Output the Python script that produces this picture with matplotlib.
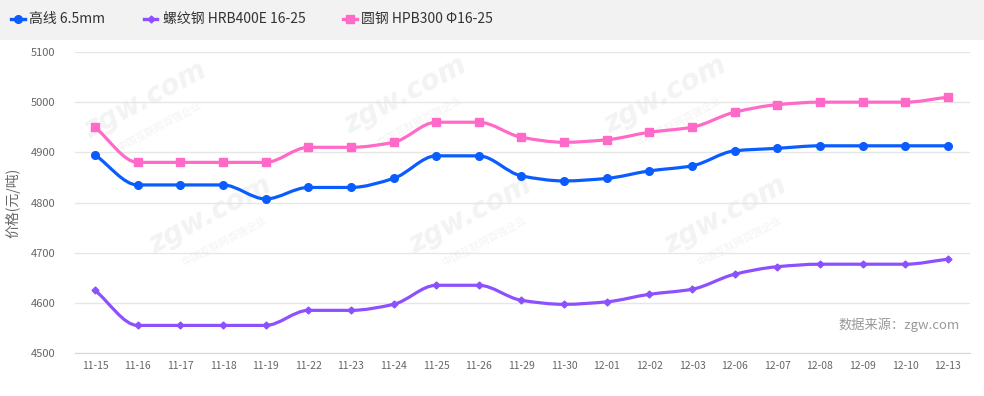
# 钢材价格走势图 (中钢网 스타일) 재현
import matplotlib as mpl
import matplotlib.pyplot as plt
from matplotlib.lines import Line2D
from matplotlib.path import Path
from matplotlib.patches import PathPatch, Rectangle
import numpy as np

mpl.rcParams['font.family'] = ['Noto Sans CJK SC', 'DejaVu Sans']
mpl.rcParams['axes.unicode_minus'] = False

dates = ['11-15', '11-16', '11-17', '11-18', '11-19', '11-22', '11-23', '11-24',
         '11-25', '11-26', '11-29', '11-30', '12-01', '12-02', '12-03', '12-06',
         '12-07', '12-08', '12-09', '12-10', '12-13']
gaoxian = [4895, 4835, 4835, 4835, 4807, 4830, 4830, 4848, 4893, 4893, 4853,
           4843, 4848, 4863, 4873, 4903, 4908, 4913, 4913, 4913, 4913]
luowen = [4625, 4555, 4555, 4555, 4555, 4585, 4585, 4597, 4635, 4635, 4605,
          4597, 4602, 4617, 4627, 4657, 4672, 4677, 4677, 4677, 4687]
yuangang = [4950, 4880, 4880, 4880, 4880, 4910, 4910, 4920, 4960, 4960, 4930,
            4920, 4925, 4940, 4950, 4980, 4995, 5000, 5000, 5000, 5010]
names = ['高线 6.5mm', '螺纹钢 HRB400E 16-25', '圆钢 HPB300 Φ16-25']
colors = ['#0a5cff', '#8d50ff', '#ff6ac8']
markers = ['o', 'D', 's']
msizes = [5.5, 3.5, 5.5]
yticks = [4500, 4600, 4700, 4800, 4900, 5000, 5100]

W, H = 984, 396


def smooth_path(x, y):
    '단조 3차 보간(PCHIP) 베지어 경로'
    x = np.asarray(x, float)
    y = np.asarray(y, float)
    h = np.diff(x)
    d = np.diff(y) / h
    m = np.zeros_like(y)
    for i in range(1, len(y) - 1):
        if d[i - 1] * d[i] > 0:
            m[i] = 2 / (1 / d[i - 1] + 1 / d[i])
    m[0] = d[0]
    m[-1] = d[-1]
    verts = [(x[0], y[0])]
    codes = [Path.MOVETO]
    for i in range(len(x) - 1):
        verts += [(x[i] + h[i] / 3, y[i] + m[i] * h[i] / 3),
                  (x[i + 1] - h[i] / 3, y[i + 1] - m[i + 1] * h[i] / 3),
                  (x[i + 1], y[i + 1])]
        codes += [Path.CURVE4] * 3
    return Path(verts, codes)


fig = plt.figure(figsize=(W / 100, H / 100), dpi=100)
fig.patch.set_facecolor('white')

# 상단 범례 배경
fig.add_artist(Rectangle((0, 1 - 40 / H), 1, 40 / H, transform=fig.transFigure,
                         facecolor='#f2f2f2', edgecolor='none', zorder=0))

ax = fig.add_axes([75 / W, 1 - 353 / H, (970 - 75) / W, (353 - 52) / H])
ax.set_facecolor('none')
ax.set_zorder(2)  # 워터마크 위에 그리기

# 워터마크 (플롯 안쪽에 들어가는 것만)
for xx, yy in [(145, 100), (405, 95), (665, 95), (210, 215), (470, 215), (725, 215)]:
    fig.text(xx / W, 1 - yy / H, 'zgw.com', fontsize=20, fontweight='bold',
             style='italic', color='#f3f3f3', rotation=28, ha='center',
             va='center', zorder=0.5, family='DejaVu Sans')
    fig.text((xx + 14) / W, 1 - (yy + 26) / H, '中国互联网百强企业', fontsize=7.5,
             color='#f3f3f3', rotation=28, ha='center', va='center', zorder=0.5)

x = np.arange(len(dates))
for vals, c, mk, ms in zip([gaoxian, luowen, yuangang], colors, markers, msizes):
    ax.add_patch(PathPatch(smooth_path(x, vals), facecolor='none', edgecolor=c,
                           lw=2.3, zorder=3, capstyle='round', joinstyle='round'))
    ax.plot(x, vals, ls='none', marker=mk, ms=ms, color=c, zorder=4)

ax.set_xlim(-0.47, 20.52)
ax.set_ylim(4500, 5100)
ax.set_yticks(yticks)
ax.set_xticks(x)
ax.set_xticklabels(dates)
ax.grid(axis='y', color='#e6e6e6', lw=1)
ax.set_axisbelow(True)
for s in ['top', 'right', 'left']:
    ax.spines[s].set_visible(False)
ax.spines['bottom'].set_color('#ccd6eb')
ax.tick_params(axis='y', length=0, labelsize=8, colors='#666666', pad=14)
ax.tick_params(axis='x', length=0, labelsize=7.5, colors='#666666', pad=6)
ax.set_ylabel('价格(元/吨)', fontsize=10, color='#666666', labelpad=4)
ax.yaxis.set_label_coords(-55 / (970 - 75), 0.5)

ax.text(960 / W, 1 - 325 / H, '数据来源：zgw.com', transform=fig.transFigure,
        ha='right', va='center', fontsize=9.5, color='#999999', zorder=5)

# 범례 (수동)
leg = [(11, 25, 29), (144, 157, 163), (343, 357, 361)]
for (x0, x1, tx), name, c, mk, ms in zip(leg, names, colors, markers, msizes):
    yy = 1 - 19 / H
    fig.add_artist(Line2D([x0 / W, x1 / W], [yy, yy], transform=fig.transFigure,
                          color=c, lw=2.4))
    fig.add_artist(Line2D([(x0 + x1) / 2 / W], [yy], transform=fig.transFigure,
                          color=c, marker=mk, ms=ms, ls='none'))
    fig.text(tx / W, yy, name, ha='left', va='center', fontsize=10, color='#333333')

fig.savefig('out.png', dpi=100)
